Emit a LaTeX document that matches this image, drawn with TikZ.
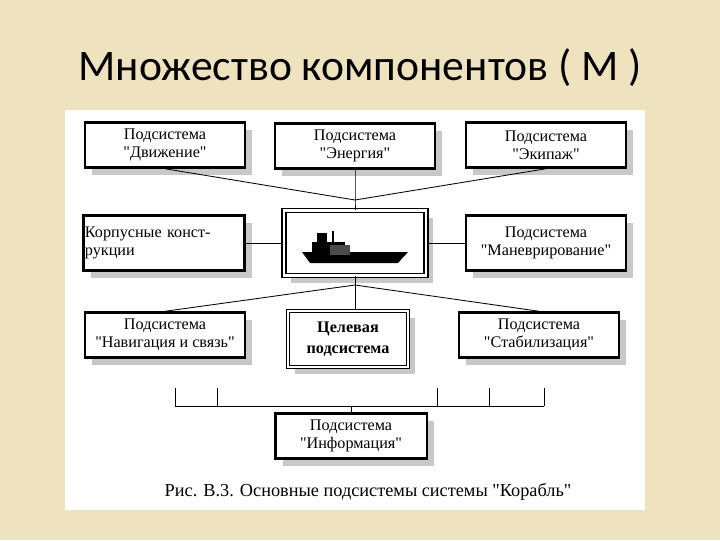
\documentclass[tikz,border=0pt]{standalone}
\usepackage{fontspec}
\setmainfont[Ligatures=TeXReset]{Liberation Serif}
\newfontfamily\titlefont{Carlito}
\usetikzlibrary{shadows}
\definecolor{parch}{HTML}{EFE2BF}
\definecolor{shade}{HTML}{C8C8C8}
\newcommand{\qt}{\symbol{34}}
\tikzset{
  sub/.style={draw=black, line width=1.6pt, fill=white, align=center, inner sep=1pt,
    font=\fontsize{11.5}{13}\selectfont, minimum width=4cm, minimum height=1.13cm,
    drop shadow={shadow xshift=0.18cm, shadow yshift=-0.18cm, fill=shade, opacity=1}},
  dbl/.style={sub, double, double distance=1.2pt, line width=0.8pt},
  link/.style={black, line width=0.6pt}
}
\begin{document}
\begin{tikzpicture}[x=0.025cm, y=-0.025cm]
\fill[parch] (0,0) rectangle (720,540);
\fill[white] (65,110) rectangle (645,510);
\node[font=\titlefont\fontsize{31}{34}\selectfont] (title) at (360,68) {Множество компонентов ( М )};
\node[sub] (move) at (165,145) {Подсистема\\\qt Движение\qt};
\node[sub] (energy) at (355,146) {Подсистема\\\qt Энергия\qt};
\node[sub] (crew) at (546,145) {Подсистема\\\qt Экипаж\qt};
\node[sub, align=left, minimum height=1.38cm, text width=3.95cm] (hull) at (164,243) {Корпусные конст-\\рукции};
\node[dbl, minimum width=3.55cm, minimum height=1.62cm, line width=1.2pt, double distance=1.6pt] (ship) at (355,243) {};
\node[sub, minimum height=1.38cm] (manoeuvre) at (546,243) {Подсистема\\\qt Маневрирование\qt};
\node[sub] (nav) at (165,335) {Подсистема\\\qt Навигация и связь\qt};
\node[dbl, minimum width=3cm, minimum height=1.4cm, font=\bfseries\fontsize{11.5}{15}\selectfont] (target) at (348,339) {Целевая\\подсистема};
\node[sub] (stab) at (539,335) {Подсистема\\\qt Стабилизация\qt};
\node[sub, minimum width=3.78cm] (info) at (351,436) {Подсистема\\\qt Информация\qt};
\node[font=\fontsize{13}{15}\selectfont] (caption) at (368,492) {Рис. В.3. Основные подсистемы системы \qt Корабль\qt};
% ship silhouette
\fill[black] (302,252) -- (408,252) -- (398,263) -- (310,263) -- cycle;
\fill[black] (312,242) rectangle (345,253);
\fill[black] (317,233) rectangle (327,243);
\fill[black!70] (330,245) rectangle (350,255);
\draw[black, thick] (333,243) -- (333,231);
% connectors
\coordinate (top) at (355,200);
\coordinate (bot) at (355,285);
\draw[link] (move.south) -- (top) -- (crew.south);
\draw[link] (energy.south) -- (top) -- (ship.north);
\draw[link] (hull.east) -- (ship.west);
\draw[link] (ship.east) -- (manoeuvre.west);
\draw[link] (ship.south) -- (ship.south |- target.north);
\draw[link] (nav.north) -- (bot) -- (stab.north);
\coordinate (busl) at (175,406);
\coordinate (busr) at (544,406);
\draw[link] (busl) -- (busr);
\foreach \bx in {175,217,437,489,544}
  \draw[link] (\bx,388) -- (\bx,406);
\draw[link] (351,406) -- (info.north);
\end{tikzpicture}
\end{document}
